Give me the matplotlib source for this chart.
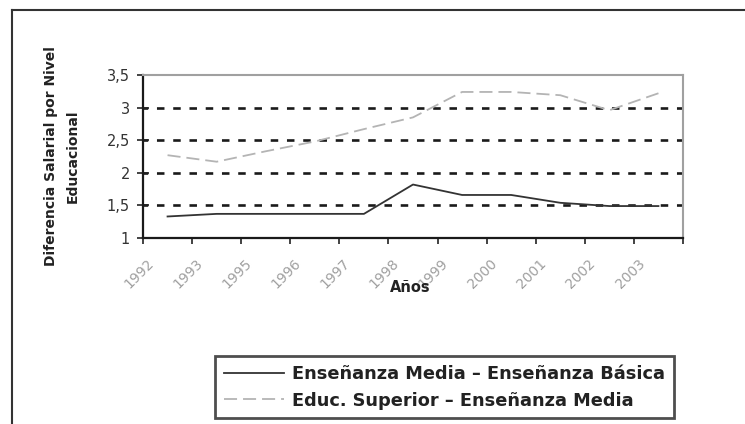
import numpy as np
import matplotlib
import matplotlib.pyplot as plt
from matplotlib.lines import Line2D
from matplotlib.transforms import ScaledTranslation

# Wage gap ratios by education level
years = ['1992', '1993', '1995', '1996', '1997', '1998', '1999', '2000', '2001', '2002', '2003']
media_basica = [1.33, 1.37, 1.37, 1.37, 1.37, 1.82, 1.66, 1.66, 1.54, 1.49, 1.49]
superior_media = [2.27, 2.17, 2.33, 2.48, 2.67, 2.85, 3.24, 3.24, 3.19, 2.96, 3.22]

y_ticks = [1, 1.5, 2, 2.5, 3, 3.5]
y_tick_labels = ['1', '1,5', '2', '2,5', '3', '3,5']
grid_levels = [1.5, 2, 2.5, 3]

label_media_basica = 'Enseñanza Media \u2013 Enseñanza Básica'
label_superior_media = 'Educ. Superior \u2013 Enseñanza Media'

plt.rcParams['font.family'] = 'DejaVu Sans'
plt.rcParams['lines.scale_dashes'] = False

W, H = 745, 424
fig = plt.figure(figsize=(W / 100, H / 100), dpi=100)
ax = fig.add_axes([143 / W, (H - 238) / H, 540 / W, 163 / H])

x = np.arange(len(years))

# dashed horizontal gridlines
for lvl in grid_levels:
    ax.axhline(lvl, color='#1a1a1a', lw=1.9, linestyle=(2, (5.4, 6.3)), zorder=1)

l1, = ax.plot(x, media_basica, color='#333333', lw=1.3, zorder=3)
l2, = ax.plot(x, superior_media, color='#b4b4b4', lw=1.3,
              linestyle=(0, (9.4, 4.3)), zorder=2)

ax.set_xlim(-0.5, len(years) - 0.5)
ax.set_ylim(1, 3.5)

ax.set_yticks(y_ticks)
ax.set_yticklabels(y_tick_labels)
ax.tick_params(axis='y', direction='inout', length=9, width=1.2, pad=5,
               labelsize=10.5, labelcolor='#333333', color='#222222')

ax.set_xticks(x)
ax.set_xticklabels(years, rotation=45, ha='right', va='top')
ax.set_xticks(np.arange(len(years) + 1) - 0.5, minor=True)
ax.tick_params(axis='x', which='major', length=0, pad=13, labelsize=10,
               labelcolor='#a0a0a0')
ax.tick_params(axis='x', which='minor', direction='out', length=4.5,
               width=1.2, color='#222222')
shift = ScaledTranslation(-11 / 100, 0, fig.dpi_scale_trans)
for lab in ax.get_xticklabels():
    lab.set_transform(lab.get_transform() + shift)

for side in ['left', 'bottom']:
    ax.spines[side].set_color('#1a1a1a')
    ax.spines[side].set_linewidth(1.6)
for side in ['top', 'right']:
    ax.spines[side].set_color('#a0a0a0')
    ax.spines[side].set_linewidth(1.5)

ax.set_xlabel('Años', fontsize=10.5, fontweight='bold', color='#222222')
ax.xaxis.set_label_coords((410 - 143) / 540, (238 - 280) / 163)
ax.set_ylabel('Diferencia Salarial por Nivel\nEducacional', fontsize=10,
              fontweight='bold', color='#222222', linespacing=1.7)
ax.yaxis.set_label_coords((80 - 143) / 540, 0.5)

leg = ax.legend([l1, l2], [label_media_basica, label_superior_media],
                loc='upper left', bbox_to_anchor=(215 / W, 1 - 356 / H),
                bbox_transform=fig.transFigure, frameon=True, fancybox=False,
                prop=dict(family='DejaVu Sans', weight='bold', size=12.8),
                borderpad=0.5, handlelength=3.4, handletextpad=0.45,
                labelspacing=0.49, borderaxespad=0)
leg.get_frame().set_edgecolor('#222222')
leg.get_frame().set_linewidth(2)
for t in leg.get_texts():
    t.set_color('#222222')

# outer chart border (left and top edges visible)
fig.add_artist(Line2D([12 / W, 12 / W], [0, 1 - 10 / H], transform=fig.transFigure,
                      color='#333333', lw=1.5))
fig.add_artist(Line2D([12 / W, 1], [1 - 10 / H, 1 - 10 / H], transform=fig.transFigure,
                      color='#333333', lw=1.5))

fig.savefig('out.png', dpi=100)
